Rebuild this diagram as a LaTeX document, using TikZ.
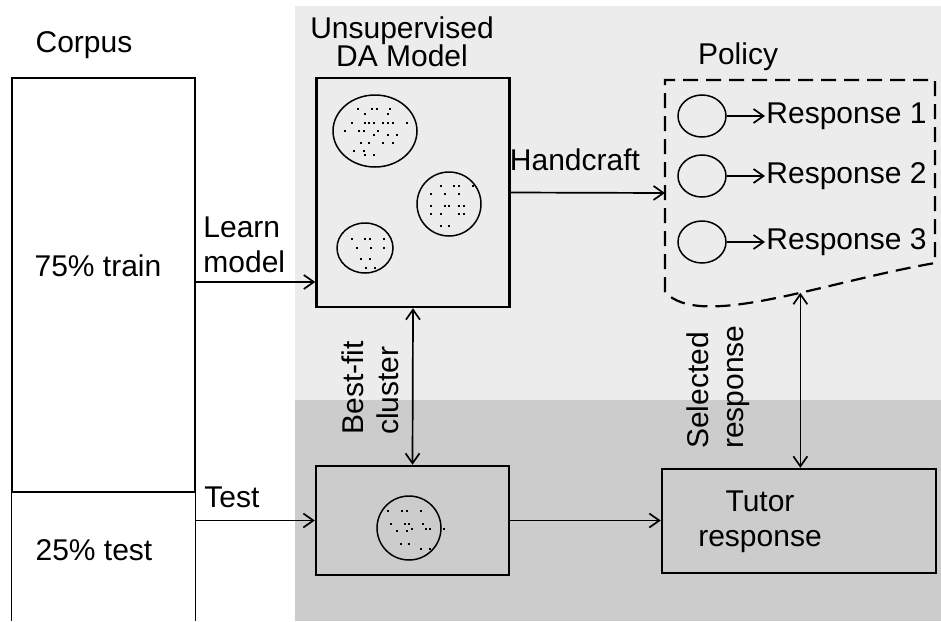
\documentclass[tikz,border=0pt]{standalone}
\usepackage{fontspec}
\setmainfont{Liberation Sans}
\usetikzlibrary{arrows.meta,positioning,shapes.geometric}
\definecolor{toplight}{HTML}{ECECEC}
\definecolor{botdark}{HTML}{CCCCCC}

\begin{document}
\begin{tikzpicture}[x=0.5pt,y=-0.5pt,
    font=\fontsize{15}{17.5}\selectfont,
    box/.style={draw, line width=1.2pt, inner sep=0pt},
    blob/.style={draw, ellipse, line width=0.75pt, inner sep=0pt},
    txt/.style={inner sep=0pt, align=left},
    arr/.style={-{Straight Barb[length=5pt,width=7pt]}, line width=0.85pt},
    darr/.style={{Straight Barb[length=5pt,width=7pt]}-{Straight Barb[length=5pt,width=7pt]}, line width=0.85pt}
  ]
  \useasboundingbox (0,0) rectangle (941,621);
  % shaded panels
  \fill[toplight] (295,6) rectangle (941,400);
  \fill[botdark] (295,400) rectangle (941,621);

  % corpus split
  \node[txt] (corpus) at (84,45) {Corpus};
  \node[draw, line width=0.6pt, minimum width=91.5pt, minimum height=207pt] (train) at (103.5,285) {};
  \coordinate (foot) at (0,621);
  \draw[line width=0.6pt] (train.south west) -- (train.south west |- foot)
    (train.south east) -- (train.south east |- foot);
  \node[txt] (trainlbl) at (98,266) {75\% train};
  \node[txt] (testlbl) at (94,550) {25\% test};

  % model and test boxes
  \node[box, minimum width=96.5pt, minimum height=114.5pt] (model) at (413,192.5) {};
  \node[txt, align=center, font=\fontsize{15}{14}\selectfont] (modellbl) at (402,42) {Unsupervised\\DA Model};
  \node[blob, minimum width=42pt, minimum height=36pt] (cl1) at (375,131) {};
  \node[blob, minimum width=32pt, minimum height=32pt] (cl2) at (449,204) {};
  \node[blob, minimum width=28pt, minimum height=25pt] (cl3) at (365,248) {};
  \foreach \dx/\dy in {-17/-22,-3/-22,2/-22,15/-22,-10/-17,13/-17,-23/-8,-10/-8,-6/-8,-1/-8,8/-8,13/-8,18/-8,32/-8,-30/0,-16/0,-11/0,3/0,-1/4,13/4,22/4,-14/12,-6/12,8/12,18/12,-21/20,-11/20,-10/24,-1/24}
    \fill ([shift={(\dx,\dy)}]cl1.center) +(-1.4,-1.4) rectangle +(1.4,1.4);
  \foreach \dx/\dy in {-8/-18,5/-18,10/-18,24/-18,-18/-10,-4/-10,10/-10,-18/2,-4/2,0/2,10/2,15/2,-18/10,-8/10,10/10,15/10,-8/22,0/22}
    \fill ([shift={(\dx,\dy)}]cl2.center) +(-1.4,-1.4) rectangle +(1.4,1.4);
  \foreach \dx/\dy in {-13/-9,0/-9,5/-9,19/-9,-8/0,6/0,19/0,-4/11,5/11,1/20,10/20}
    \fill ([shift={(\dx,\dy)}]cl3.center) +(-1.4,-1.4) rectangle +(1.4,1.4);

  \node[box, minimum width=96.5pt, minimum height=54.5pt] (fitbox) at (412.5,520.5) {};
  \node[blob, minimum width=32pt, minimum height=32pt] (fit) at (409,528) {};
  \foreach \dx/\dy in {-21/-17,-7/-17,-2/-17,12/-17,-18/-4,-4/-4,0/-4,14/-4,-12/3,-2/3,3/1,17/1,21/1,35/1,-8/16,0/16,12/21,21/21}
    \fill ([shift={(\dx,\dy)}]fit.center) +(-1.4,-1.4) rectangle +(1.4,1.4);

  % policy
  \node[txt] (policylbl) at (738,57) {Policy};
  \coordinate (polw) at (665,193);
  \draw[line width=1.1pt, dash pattern=on 7.5pt off 4pt] (665,292) -- (665,80) -- (935,80) -- (935,263)
    .. controls (820,283) and (700,330) .. coordinate[pos=0.4] (polbot) (665,292);
  \foreach \i/\y in {1/116,2/176,3/242} {
    \node[blob, minimum width=24pt, minimum height=21pt] (c\i) at (702,\y) {};
    \node[txt, anchor=west, inner xsep=0.5pt] (r\i) at (765,\y) {Response \i};
    \draw[arr] (c\i) -- (r\i);
  }

  \node[box, minimum width=137pt, minimum height=52pt] (tutor) at (799,521) {};
  \node[txt, align=center] (tutorlbl) at (760,522) {Tutor\\response};

  % connectors
  \coordinate (lrn) at (0,282);
  \draw[arr] (train.east |- lrn) -- (model.west |- lrn);
  \node[txt, anchor=west] (learnlbl) at (203,245) {Learn\\model};
  \draw[arr] (train.east |- fitbox.west) -- (fitbox.west);
  \node[txt, anchor=west] (testarrlbl) at (204,497) {Test};
  \draw[arr] (model.east) -- (polw);
  \node[txt] (handlbl) at (575,160) {Handcraft};
  \draw[arr] (fitbox.east) -- (fitbox.east -| tutor.west);
  \draw[darr] (model.south) -- (fitbox.north);
  \node[txt, rotate=90] (bestlbl) at (370,388) {Best-fit\\cluster};
  \draw[darr] (polbot) -- (polbot |- tutor.north);
  \node[txt, rotate=90] (sellbl) at (718,387) {Selected\\response};
\end{tikzpicture}
\end{document}
